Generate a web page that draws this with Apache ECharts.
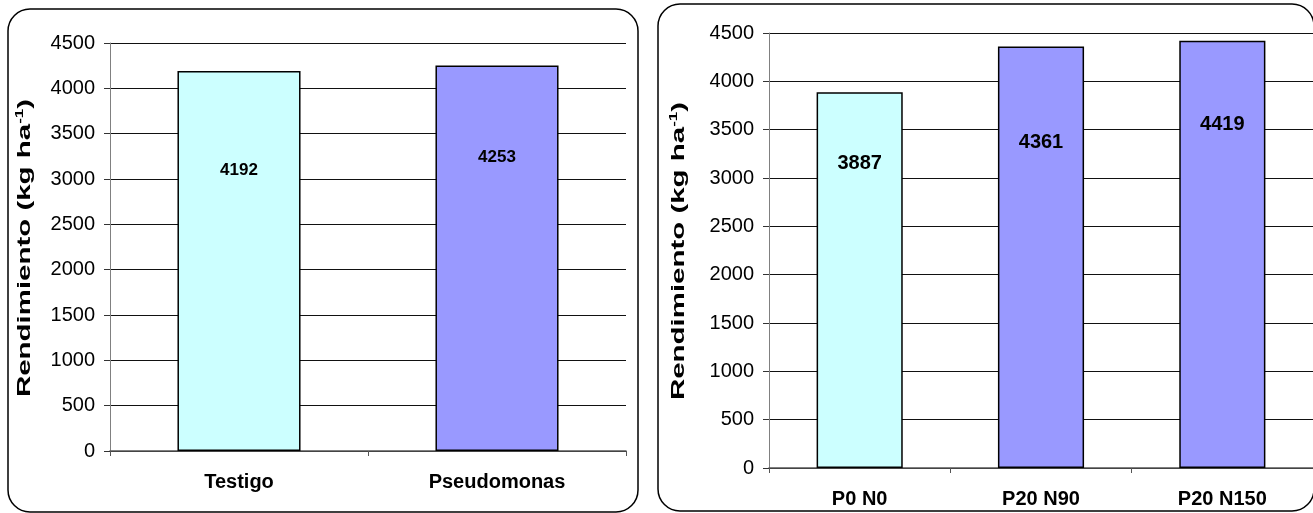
<!DOCTYPE html>
<html>
<head>
<meta charset="utf-8">
<script src="https://cdn.jsdelivr.net/npm/echarts@6/dist/echarts.min.js"></script>
<style>
  html, body { margin: 0; padding: 0; background: #fff; }
  #chart { width: 1313px; height: 513px; }
</style>
</head>
<body>
<div id="chart"></div>
<script>
// Yield per treatment (kg ha-1)
const leftCategories = ['Testigo', 'Pseudomonas'];
const leftValues = [4192, 4253];
const rightCategories = ['P0 N0', 'P20 N90', 'P20 N150'];
const rightValues = [3887, 4361, 4419];
const yMin = 0;
const yMax = 4500;
const yStep = 500;

const FONT = '"Liberation Sans", Arial, sans-serif';
const cyan = '#CCFFFF';
const violet = '#9999FF';

function yAxisCfg(gridIndex) {
  return {
    type: 'value', gridIndex, min: yMin, max: yMax, interval: yStep,
    axisLine: { show: true, lineStyle: { color: '#808080', width: 1 } },
    axisTick: { show: true, length: 6, lineStyle: { color: '#333' } },
    splitLine: { show: true, lineStyle: { color: '#111', width: 1 } },
    axisLabel: {
      color: '#000', fontFamily: FONT, fontSize: 20, margin: 15,
      formatter: v => String(v)
    }
  };
}

function xAxisCfg(gridIndex, data) {
  return {
    type: 'category', gridIndex, data,
    axisLine: { show: true, lineStyle: { color: '#555', width: 1.5 } },
    axisTick: { show: true, length: 5, alignWithLabel: false, lineStyle: { color: '#555' } },
    axisLabel: { color: '#000', fontFamily: FONT, fontSize: 20, fontWeight: 'bold', margin: 21 }
  };
}

// label drop (px below bar top) for each bar's value label
const leftDrop = [99, 92];
const rightDrop = [71, 96, 84];

function barSeries(idx, values, colors, drops, labelSize, width) {
  return {
    type: 'bar', xAxisIndex: idx, yAxisIndex: idx, barWidth: width,
    data: values.map((v, i) => ({
      value: v,
      itemStyle: { color: colors[i] },
      label: { position: ['50%', drops[i]] }
    })),
    itemStyle: { borderColor: '#000', borderWidth: 1.5 },
    label: {
      show: true, align: 'center', verticalAlign: 'middle',
      color: '#000', fontFamily: FONT, fontWeight: 'bold', fontSize: labelSize
    }
  };
}

function yTitle(cx, cy) {
  return {
    type: 'text', x: cx, y: cy, rotation: Math.PI / 2, scaleX: 1.55, scaleY: 1,
    style: {
      text: '{b|Rendimiento (kg ha}{s|-1}{b|)}',
      align: 'center', verticalAlign: 'middle',
      rich: {
        b: { fontFamily: FONT, fontWeight: 'bold', fontSize: 19, fill: '#000', lineHeight: 22 },
        s: { fontFamily: FONT, fontWeight: 'bold', fontSize: 11, fill: '#000', verticalAlign: 'top', lineHeight: 22 }
      }
    }
  };
}

const chart = echarts.init(document.getElementById('chart'), null, { renderer: 'canvas' });
chart.setOption({
  backgroundColor: '#fff',
  animation: false,
  grid: [
    { left: 110, top: 43, width: 516, height: 408 },
    { left: 769, top: 33, width: 544, height: 435 }
  ],
  xAxis: [xAxisCfg(0, leftCategories), xAxisCfg(1, rightCategories)],
  yAxis: [yAxisCfg(0), yAxisCfg(1)],
  series: [
    barSeries(0, leftValues, [cyan, violet], leftDrop, 17, '47.7%'),
    barSeries(1, rightValues, [cyan, violet, violet], rightDrop, 20, '47.5%')
  ],
  graphic: [
    { type: 'rect', shape: { x: 8, y: 9, width: 630, height: 503, r: 22 },
      style: { fill: 'none', stroke: '#000', lineWidth: 1.5 } },
    { type: 'rect', shape: { x: 658, y: 4, width: 656, height: 507, r: 22 },
      style: { fill: 'none', stroke: '#000', lineWidth: 1.5 } },
    yTitle(25, 248),
    yTitle(679, 251)
  ]
});
</script>
</body>
</html>
